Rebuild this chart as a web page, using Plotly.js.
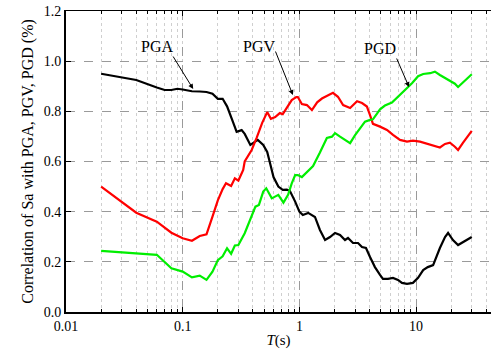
<!DOCTYPE html>
<html>
<head>
<meta charset="utf-8">
<script src="https://cdn.plot.ly/plotly-3.0.1.min.js"></script>
<style>html,body{margin:0;padding:0;background:#fff;}#chart{width:491px;height:358px;}</style>
</head>
<body>
<div id="chart"></div>
<script>
// PGA correlation
var pgaT = [0.02,0.04,0.06,0.07,0.08,0.09,0.1,0.12,0.14,0.16,0.18,0.2,0.22,0.24,0.27,0.29,0.32,0.34,0.38,0.42,0.44,0.49,0.53,0.56,0.6,0.66,0.72,0.78,0.83,0.92,1.0,1.07,1.19,1.36,1.5,1.66,1.83,2.02,2.23,2.46,2.61,2.88,3.18,3.44,3.72,4.03,4.44,4.91,5.2,5.74,6.34,7.0,7.57,8.36,9.4,10.4,11.5,12.6,14.0,16.0,17.7,18.8,20.7,22.9,25.2,30];
var pgaV = [0.95,0.925,0.895,0.885,0.885,0.89,0.887,0.88,0.879,0.877,0.87,0.85,0.85,0.82,0.757,0.718,0.725,0.71,0.666,0.678,0.686,0.666,0.638,0.594,0.538,0.50,0.487,0.488,0.482,0.44,0.40,0.387,0.395,0.379,0.327,0.287,0.299,0.315,0.307,0.287,0.295,0.275,0.275,0.259,0.255,0.219,0.179,0.148,0.132,0.132,0.136,0.128,0.116,0.112,0.116,0.136,0.167,0.179,0.187,0.255,0.299,0.315,0.287,0.267,0.279,0.299];

// PGV correlation
var pgvT = [0.02,0.04,0.06,0.08,0.1,0.12,0.14,0.16,0.18,0.2,0.22,0.235,0.26,0.28,0.3,0.33,0.34,0.39,0.43,0.48,0.53,0.57,0.62,0.68,0.72,0.78,0.86,0.94,0.97,1.05,1.16,1.28,1.42,1.56,1.72,1.94,2.14,2.37,2.72,3.12,3.44,3.79,4.03,4.27,4.91,5.63,6.34,7.28,8.36,9.4,10.8,12.4,14.0,16.0,17.7,19.5,21.5,22.9,25.2,30];
var pgvV = [0.50,0.396,0.36,0.316,0.294,0.284,0.303,0.31,0.38,0.445,0.49,0.513,0.502,0.533,0.524,0.566,0.60,0.646,0.694,0.754,0.797,0.77,0.777,0.793,0.789,0.813,0.845,0.857,0.857,0.829,0.825,0.805,0.836,0.851,0.86,0.874,0.858,0.825,0.813,0.84,0.833,0.819,0.785,0.75,0.739,0.726,0.706,0.686,0.679,0.683,0.679,0.67,0.665,0.656,0.67,0.675,0.659,0.646,0.674,0.722];

// PGD correlation
var pgdT = [0.02,0.06,0.08,0.1,0.12,0.14,0.16,0.18,0.2,0.22,0.24,0.26,0.28,0.3,0.34,0.38,0.42,0.45,0.49,0.52,0.58,0.66,0.73,0.8,0.86,0.92,0.97,1.05,1.16,1.31,1.5,1.72,1.9,2.02,2.23,2.46,2.72,2.99,3.31,3.65,4.03,4.27,4.91,5.41,6.21,7.0,8.04,9.22,10.4,11.5,13.2,14.5,16.0,17.7,19.5,21.5,22.9,25.2,30];
var pgdV = [0.244,0.228,0.174,0.161,0.138,0.145,0.128,0.161,0.207,0.222,0.254,0.232,0.265,0.267,0.314,0.367,0.42,0.427,0.48,0.493,0.453,0.467,0.436,0.467,0.513,0.546,0.546,0.538,0.559,0.582,0.636,0.694,0.699,0.713,0.699,0.686,0.673,0.704,0.732,0.759,0.766,0.768,0.808,0.823,0.835,0.858,0.885,0.912,0.94,0.949,0.952,0.958,0.945,0.932,0.922,0.91,0.897,0.914,0.948];

var xTickVals = [0.01,0.1,1,10];
var xTickText = ['0.01','0.1','1','10'];

var FONT = 'Liberation Serif, Times New Roman, serif';

var traces = [
  {x: pgaT, y: pgaV, type: 'scatter', mode: 'lines', line: {color: '#000000', width: 2.2}, name: 'PGA'},
  {x: pgvT, y: pgvV, type: 'scatter', mode: 'lines', line: {color: '#ff0000', width: 2.2}, name: 'PGV'},
  {x: pgdT, y: pgdV, type: 'scatter', mode: 'lines', line: {color: '#00ee00', width: 2.2}, name: 'PGD'},
  {x: [0.1], y: [0], xaxis: 'x2', type: 'scatter', mode: 'markers', marker: {opacity: 0}, hoverinfo: 'skip', showlegend: false}
];

var xr = [-2, 1.642];

var layout = {
  width: 491, height: 358,
  margin: {l: 66, r: 0, t: 11, b: 46},
  paper_bgcolor: '#ffffff', plot_bgcolor: '#ffffff',
  showlegend: false,
  font: {family: FONT, size: 14, color: '#000'},
  xaxis: {
    type: 'log', range: xr,
    tickvals: xTickVals, ticktext: xTickText,
    ticks: 'inside', ticklen: 5, tickwidth: 1, tickcolor: '#000',
    showline: true, linewidth: 2, linecolor: '#000',
    showgrid: true, gridcolor: '#9a9a9a', griddash: 'dash', gridwidth: 1,
    zeroline: false,
    tickfont: {family: FONT, size: 14},
    minor: {dtick: 'D1', ticks: 'inside', ticklen: 3, tickcolor: '#000', showgrid: true, gridcolor: '#cfcfcf', griddash: 'dot', gridwidth: 1},
    title: {text: '<i>T</i>(s)', font: {family: FONT, size: 15}, standoff: 2}
  },
  xaxis2: {
    type: 'log', range: xr, overlaying: 'x', side: 'top',
    tickvals: xTickVals, ticktext: ['', '', '', ''], showticklabels: false,
    ticks: 'inside', ticklen: 5, tickcolor: '#000',
    showline: true, linewidth: 1, linecolor: '#000',
    showgrid: false, zeroline: false,
    minor: {dtick: 'D1', ticks: 'inside', ticklen: 3, tickcolor: '#000', showgrid: false}
  },
  yaxis: {
    range: [0, 1.2], dtick: 0.2, tickformat: '.1f',
    ticks: 'inside', ticklen: 5, tickcolor: '#000',
    showline: true, linewidth: 2, linecolor: '#000',
    showgrid: true, gridcolor: '#9a9a9a', griddash: 'dash', gridwidth: 1,
    zeroline: false,
    tickfont: {family: FONT, size: 14},
    title: {text: 'Correlation of Sa with PGA, PGV, PGD (%)', font: {family: FONT, size: 16}, standoff: 6}
  },
  annotations: [
    {x: Math.log10(0.06), y: 1.06, xref: 'x', yref: 'y', text: 'PGA', showarrow: false, font: {family: FONT, size: 16}},
    {x: Math.log10(0.123), y: 0.889, xref: 'x', yref: 'y', text: '', showarrow: true, ax: -21, ay: -34, arrowhead: 2, arrowsize: 1, arrowwidth: 1, arrowcolor: '#000'},
    {x: Math.log10(0.45), y: 1.06, xref: 'x', yref: 'y', text: 'PGV', showarrow: false, font: {family: FONT, size: 16}},
    {x: Math.log10(0.88), y: 0.865, xref: 'x', yref: 'y', text: '', showarrow: true, ax: -18, ay: -45, arrowhead: 2, arrowsize: 1, arrowwidth: 1, arrowcolor: '#000'},
    {x: Math.log10(4.9), y: 1.05, xref: 'x', yref: 'y', text: 'PGD', showarrow: false, font: {family: FONT, size: 16}},
    {x: Math.log10(8.7), y: 0.897, xref: 'x', yref: 'y', text: '', showarrow: true, ax: -13, ay: -30, arrowhead: 2, arrowsize: 1, arrowwidth: 1, arrowcolor: '#000'}
  ]
};

Plotly.newPlot('chart', traces, layout, {displayModeBar: false, staticPlot: true});
</script>
</body>
</html>
